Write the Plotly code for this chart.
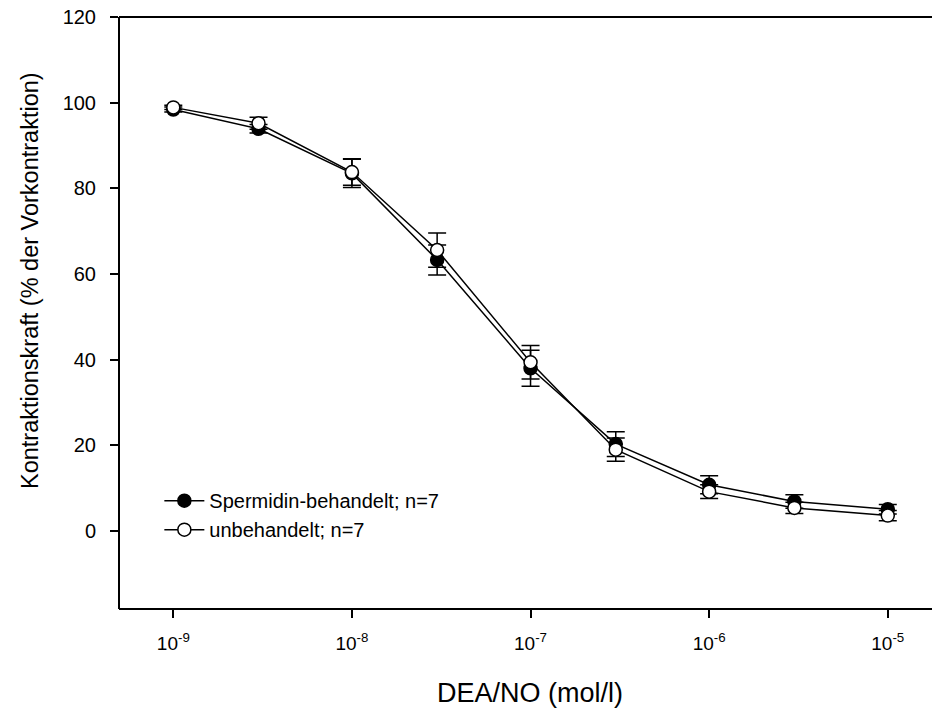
import plotly.graph_objects as go

conc = [1e-9, 3e-9, 1e-8, 3e-8, 1e-7, 3e-7, 1e-6, 3e-6, 1e-5]
spermidin = [98.4, 93.9, 83.5, 63.3, 38.0, 20.3, 10.8, 6.9, 5.1]
spermidin_err = [0.6, 1.0, 3.3, 3.5, 4.2, 2.9, 2.1, 1.6, 1.1]
unbehandelt = [98.9, 95.2, 83.8, 65.6, 39.4, 19.0, 9.2, 5.4, 3.6]
unbehandelt_err = [0.5, 1.4, 3.1, 4.0, 3.9, 2.7, 1.6, 1.3, 1.2]

xtick_vals = [1e-9, 1e-8, 1e-7, 1e-6, 1e-5]
xtick_text = ["10<sup>-9</sup>", "10<sup>-8</sup>", "10<sup>-7</sup>", "10<sup>-6</sup>", "10<sup>-5</sup>"]
ytick_vals = [0, 20, 40, 60, 80, 100, 120]

x_title = "DEA/NO (mol/l)"
y_title = "Kontraktionskraft (% der Vorkontraktion)"

FONT = "Arial, Liberation Sans, sans-serif"

fig = go.Figure()
fig.add_trace(go.Scatter(
    x=conc, y=spermidin, mode="lines+markers",
    name="Spermidin-behandelt; n=7",
    line=dict(color="black", width=1.5),
    marker=dict(symbol="circle", size=13, color="black", line=dict(color="black", width=1.5)),
    error_y=dict(type="data", array=spermidin_err, visible=True, color="black", thickness=1.5, width=9),
))
fig.add_trace(go.Scatter(
    x=conc, y=unbehandelt, mode="lines+markers",
    name="unbehandelt; n=7",
    line=dict(color="black", width=1.5),
    marker=dict(symbol="circle", size=13, color="white", line=dict(color="black", width=1.5)),
    error_y=dict(type="data", array=unbehandelt_err, visible=True, color="black", thickness=1.5, width=9),
))

# frame: left, bottom and top lines (open on the right)
frame = dict(type="line", xref="paper", yref="paper", line=dict(color="black", width=2), layer="above")
fig.add_shape(x0=0, x1=0, y0=0, y1=1, **frame)
fig.add_shape(x0=0, x1=1.02, y0=0, y1=0, **frame)
fig.add_shape(x0=0, x1=1.02, y0=1, y1=1, **frame)

fig.add_annotation(text=y_title, xref="paper", yref="paper", x=0, y=0.554,
                   xanchor="center", yanchor="middle", xshift=-89, textangle=-90,
                   showarrow=False, font=dict(size=23.5, family=FONT, color="black"))
fig.add_annotation(text=x_title, xref="paper", yref="paper", x=0.509, y=0,
                   xanchor="center", yanchor="middle", yshift=-84,
                   showarrow=False, font=dict(size=27, family=FONT, color="black"))

fig.update_layout(
    width=932, height=711,
    margin=dict(l=119, r=6, t=17, b=102),
    paper_bgcolor="white", plot_bgcolor="white",
    font=dict(family=FONT, size=20, color="black"),
    showlegend=True,
    legend=dict(x=0.05, y=0.216, xanchor="left", yanchor="top",
                bgcolor="rgba(0,0,0,0)", font=dict(size=20, family=FONT),
                tracegroupgap=0, itemwidth=40),
)
fig.update_xaxes(
    type="log", range=[-9.304, -4.786],
    tickvals=xtick_vals, ticktext=xtick_text,
    ticks="outside", ticklen=8, tickwidth=1.5, tickcolor="black",
    showline=False, mirror=False,
    showgrid=False, zeroline=False,
    ticklabelstandoff=9,
    tickfont=dict(size=19, family=FONT),
)
fig.update_yaxes(
    range=[-18.2, 120],
    tickvals=ytick_vals,
    ticks="outside", ticklen=8, tickwidth=1.5, tickcolor="black",
    showline=False, mirror=False,
    showgrid=False, zeroline=False,
    ticklabelstandoff=10,
    tickfont=dict(size=20, family=FONT),
)

# remove any outline stroke on rectangles (drag/background rects) so the right side stays open
post_js = """
var gd = document.getElementById('{plot_id}');
function clean() {
  gd.querySelectorAll('rect').forEach(function(r) {
    r.style.stroke = 'none';
    r.style.strokeWidth = '0';
  });
}
clean();
setTimeout(clean, 50);
"""

fig.write_html("out.html", config={"displayModeBar": False}, post_script=post_js)
